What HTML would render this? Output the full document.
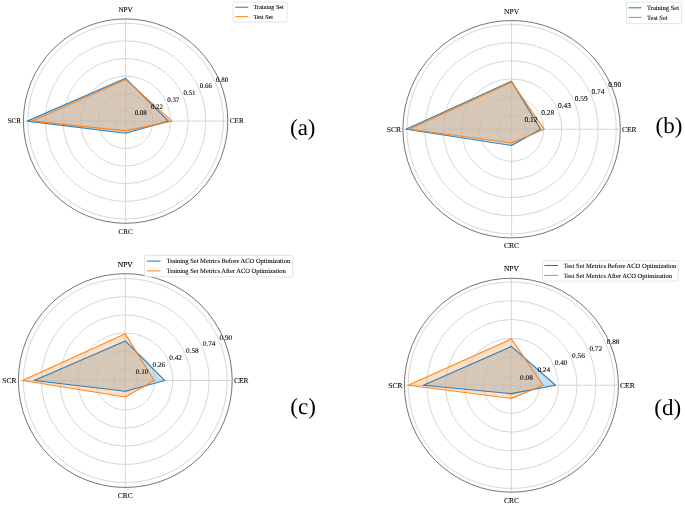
<!DOCTYPE html>
<html><head><meta charset="utf-8"><title>Radar charts</title>
<style>
html,body{margin:0;padding:0;background:#fff;}
body{width:685px;height:505px;overflow:hidden;}
svg{display:block;will-change:transform;filter:blur(0.4px);}
text{font-family:"Liberation Serif",serif;fill:#000;text-rendering:geometricPrecision;}
.s text{stroke:#000;stroke-width:0.09px;}
.s text.tag{stroke:none;}
</style></head><body>
<svg width="685" height="505" viewBox="0 0 685 505">
<rect width="685" height="505" fill="#fff"/>
<g id="chart-a" class="s">
<polygon points="168.40,121.10 125.60,78.30 27.30,121.10 125.60,133.30" fill="#1f77b4" fill-opacity="0.24" stroke="none"/>
<polygon points="171.90,121.10 125.60,79.40 32.60,121.10 125.60,130.90" fill="#ff7f0e" fill-opacity="0.24" stroke="none"/>
<circle cx="125.6" cy="121.1" r="9.78" fill="none" stroke="#bcbcbc" stroke-width="0.6"/>
<circle cx="125.6" cy="121.1" r="27.40" fill="none" stroke="#bcbcbc" stroke-width="0.6"/>
<circle cx="125.6" cy="121.1" r="45.01" fill="none" stroke="#bcbcbc" stroke-width="0.6"/>
<circle cx="125.6" cy="121.1" r="62.62" fill="none" stroke="#bcbcbc" stroke-width="0.6"/>
<circle cx="125.6" cy="121.1" r="80.23" fill="none" stroke="#bcbcbc" stroke-width="0.6"/>
<circle cx="125.6" cy="121.1" r="97.84" fill="none" stroke="#bcbcbc" stroke-width="0.6"/>
<line x1="23.39999999999999" y1="121.1" x2="227.8" y2="121.1" stroke="#bcbcbc" stroke-width="0.6"/>
<line x1="125.6" y1="18.89999999999999" x2="125.6" y2="223.3" stroke="#bcbcbc" stroke-width="0.6"/>
<polygon points="168.40,121.10 125.60,78.30 27.30,121.10 125.60,133.30" fill="none" stroke="#1f77b4" stroke-width="1.15" stroke-opacity="0.92" stroke-linejoin="round"/>
<polygon points="171.90,121.10 125.60,79.40 32.60,121.10 125.60,130.90" fill="none" stroke="#ff7f0e" stroke-width="1.15" stroke-opacity="0.92" stroke-linejoin="round"/>
<circle cx="125.6" cy="121.1" r="102.2" fill="none" stroke="#3a3a3a" stroke-width="0.7"/>
<text x="134.64" y="115.36" font-size="6.95">0.08</text>
<text x="150.91" y="108.62" font-size="6.95">0.22</text>
<text x="167.18" y="101.88" font-size="6.95">0.37</text>
<text x="183.45" y="95.14" font-size="6.95">0.51</text>
<text x="199.72" y="88.40" font-size="6.95">0.66</text>
<text x="215.99" y="81.66" font-size="6.95">0.80</text>
<text x="236.80" y="123.46" font-size="7.15" text-anchor="middle">CER</text>
<text x="125.60" y="11.86" font-size="7.15" text-anchor="middle">NPV</text>
<text x="14.40" y="123.46" font-size="7.15" text-anchor="middle">SCR</text>
<text x="125.60" y="233.66" font-size="7.15" text-anchor="middle">CRC</text>
<rect x="233.2" y="2.1" width="53.9" height="19.9" rx="1" ry="1" fill="#fff" fill-opacity="0.85" stroke="#d4d4d4" stroke-width="0.6"/>
<line x1="235.2" y1="7.2" x2="248.3" y2="7.2" stroke="#1f77b4" stroke-width="1"/>
<text x="253.6" y="9.21" font-size="6.10">Training Set</text>
<line x1="235.2" y1="16.7" x2="248.3" y2="16.7" stroke="#ff7f0e" stroke-width="1"/>
<text x="253.6" y="18.71" font-size="6.10">Test Set</text>
<text x="290.0" y="134.7" class="tag" font-size="23" fill="#000">(a)</text>
</g>
<g id="chart-b" class="s">
<polygon points="540.60,129.20 511.60,81.20 406.00,129.20 511.60,145.50" fill="#1f77b4" fill-opacity="0.24" stroke="none"/>
<polygon points="544.10,129.20 511.60,82.20 409.30,129.20 511.60,143.00" fill="#ff7f0e" fill-opacity="0.24" stroke="none"/>
<circle cx="511.6" cy="129.2" r="13.96" fill="none" stroke="#bcbcbc" stroke-width="0.6"/>
<circle cx="511.6" cy="129.2" r="32.10" fill="none" stroke="#bcbcbc" stroke-width="0.6"/>
<circle cx="511.6" cy="129.2" r="50.24" fill="none" stroke="#bcbcbc" stroke-width="0.6"/>
<circle cx="511.6" cy="129.2" r="68.38" fill="none" stroke="#bcbcbc" stroke-width="0.6"/>
<circle cx="511.6" cy="129.2" r="86.53" fill="none" stroke="#bcbcbc" stroke-width="0.6"/>
<circle cx="511.6" cy="129.2" r="104.67" fill="none" stroke="#bcbcbc" stroke-width="0.6"/>
<line x1="402.90000000000003" y1="129.2" x2="620.3000000000001" y2="129.2" stroke="#bcbcbc" stroke-width="0.6"/>
<line x1="511.6" y1="20.499999999999986" x2="511.6" y2="237.89999999999998" stroke="#bcbcbc" stroke-width="0.6"/>
<polygon points="540.60,129.20 511.60,81.20 406.00,129.20 511.60,145.50" fill="none" stroke="#1f77b4" stroke-width="1.15" stroke-opacity="0.92" stroke-linejoin="round"/>
<polygon points="544.10,129.20 511.60,82.20 409.30,129.20 511.60,143.00" fill="none" stroke="#ff7f0e" stroke-width="1.15" stroke-opacity="0.92" stroke-linejoin="round"/>
<circle cx="511.6" cy="129.2" r="108.7" fill="none" stroke="#3a3a3a" stroke-width="0.7"/>
<text x="524.49" y="121.86" font-size="7.39">0.12</text>
<text x="541.26" y="114.92" font-size="7.39">0.28</text>
<text x="558.02" y="107.97" font-size="7.39">0.43</text>
<text x="574.78" y="101.03" font-size="7.39">0.59</text>
<text x="591.54" y="94.09" font-size="7.39">0.74</text>
<text x="608.30" y="87.14" font-size="7.39">0.90</text>
<text x="629.30" y="131.71" font-size="7.60" text-anchor="middle">CER</text>
<text x="511.60" y="13.61" font-size="7.60" text-anchor="middle">NPV</text>
<text x="393.90" y="131.71" font-size="7.60" text-anchor="middle">SCR</text>
<text x="511.60" y="248.41" font-size="7.60" text-anchor="middle">CRC</text>
<rect x="626.5" y="2.2" width="54.9" height="21.4" rx="1" ry="1" fill="#fff" fill-opacity="0.85" stroke="#d4d4d4" stroke-width="0.6"/>
<line x1="628.5" y1="7.8" x2="641.6" y2="7.8" stroke="#1f77b4" stroke-width="1"/>
<text x="647.0" y="9.94" font-size="6.49">Training Set</text>
<line x1="628.5" y1="17.4" x2="641.6" y2="17.4" stroke="#ff7f0e" stroke-width="1"/>
<text x="647.0" y="19.54" font-size="6.49">Test Set</text>
<text x="655.5" y="132.7" class="tag" font-size="23" fill="#000">(b)</text>
</g>
<g id="chart-c" class="s">
<polygon points="164.90,380.55 125.30,340.95 34.10,380.55 125.30,391.25" fill="#1f77b4" fill-opacity="0.24" stroke="none"/>
<polygon points="154.20,380.55 125.30,333.85 22.50,380.55 125.30,396.95" fill="#ff7f0e" fill-opacity="0.24" stroke="none"/>
<circle cx="125.3" cy="380.55" r="11.33" fill="none" stroke="#bcbcbc" stroke-width="0.6"/>
<circle cx="125.3" cy="380.55" r="29.46" fill="none" stroke="#bcbcbc" stroke-width="0.6"/>
<circle cx="125.3" cy="380.55" r="47.59" fill="none" stroke="#bcbcbc" stroke-width="0.6"/>
<circle cx="125.3" cy="380.55" r="65.71" fill="none" stroke="#bcbcbc" stroke-width="0.6"/>
<circle cx="125.3" cy="380.55" r="83.84" fill="none" stroke="#bcbcbc" stroke-width="0.6"/>
<circle cx="125.3" cy="380.55" r="101.97" fill="none" stroke="#bcbcbc" stroke-width="0.6"/>
<line x1="18.39999999999999" y1="380.55" x2="232.2" y2="380.55" stroke="#bcbcbc" stroke-width="0.6"/>
<line x1="125.3" y1="273.65" x2="125.3" y2="487.45000000000005" stroke="#bcbcbc" stroke-width="0.6"/>
<polygon points="164.90,380.55 125.30,340.95 34.10,380.55 125.30,391.25" fill="none" stroke="#1f77b4" stroke-width="1.15" stroke-opacity="0.92" stroke-linejoin="round"/>
<polygon points="154.20,380.55 125.30,333.85 22.50,380.55 125.30,396.95" fill="none" stroke="#ff7f0e" stroke-width="1.15" stroke-opacity="0.92" stroke-linejoin="round"/>
<circle cx="125.3" cy="380.55" r="106.9" fill="none" stroke="#3a3a3a" stroke-width="0.7"/>
<text x="135.77" y="374.21" font-size="7.27">0.10</text>
<text x="152.52" y="367.28" font-size="7.27">0.26</text>
<text x="169.26" y="360.34" font-size="7.27">0.42</text>
<text x="186.01" y="353.40" font-size="7.27">0.58</text>
<text x="202.76" y="346.47" font-size="7.27">0.74</text>
<text x="219.51" y="339.53" font-size="7.27">0.90</text>
<text x="241.20" y="383.02" font-size="7.48" text-anchor="middle">CER</text>
<text x="125.30" y="266.72" font-size="7.48" text-anchor="middle">NPV</text>
<text x="9.40" y="383.02" font-size="7.48" text-anchor="middle">SCR</text>
<text x="125.30" y="497.92" font-size="7.48" text-anchor="middle">CRC</text>
<rect x="144.5" y="255.4" width="148.2" height="21.5" rx="1" ry="1" fill="#fff" fill-opacity="0.85" stroke="#d4d4d4" stroke-width="0.6"/>
<line x1="146.7" y1="261.1" x2="160.6" y2="261.1" stroke="#1f77b4" stroke-width="1"/>
<text x="166.4" y="263.25" font-size="6.50">Training Set Metrics Before ACO Optimization</text>
<line x1="146.7" y1="270.9" x2="160.6" y2="270.9" stroke="#ff7f0e" stroke-width="1"/>
<text x="166.4" y="273.04" font-size="6.50">Training Set Metrics After ACO Optimization</text>
<text x="290.3" y="413.5" class="tag" font-size="23" fill="#000">(c)</text>
</g>
<g id="chart-d" class="s">
<polygon points="555.60,385.20 511.40,346.40 423.40,385.20 511.40,393.60" fill="#1f77b4" fill-opacity="0.24" stroke="none"/>
<polygon points="543.10,385.20 511.40,338.90 408.20,385.20 511.40,398.40" fill="#ff7f0e" fill-opacity="0.24" stroke="none"/>
<circle cx="511.4" cy="385.2" r="9.38" fill="none" stroke="#bcbcbc" stroke-width="0.6"/>
<circle cx="511.4" cy="385.2" r="28.15" fill="none" stroke="#bcbcbc" stroke-width="0.6"/>
<circle cx="511.4" cy="385.2" r="46.92" fill="none" stroke="#bcbcbc" stroke-width="0.6"/>
<circle cx="511.4" cy="385.2" r="65.69" fill="none" stroke="#bcbcbc" stroke-width="0.6"/>
<circle cx="511.4" cy="385.2" r="84.46" fill="none" stroke="#bcbcbc" stroke-width="0.6"/>
<circle cx="511.4" cy="385.2" r="103.22" fill="none" stroke="#bcbcbc" stroke-width="0.6"/>
<line x1="404.4" y1="385.2" x2="618.4" y2="385.2" stroke="#bcbcbc" stroke-width="0.6"/>
<line x1="511.4" y1="278.2" x2="511.4" y2="492.2" stroke="#bcbcbc" stroke-width="0.6"/>
<polygon points="555.60,385.20 511.40,346.40 423.40,385.20 511.40,393.60" fill="none" stroke="#1f77b4" stroke-width="1.15" stroke-opacity="0.92" stroke-linejoin="round"/>
<polygon points="543.10,385.20 511.40,338.90 408.20,385.20 511.40,398.40" fill="none" stroke="#ff7f0e" stroke-width="1.15" stroke-opacity="0.92" stroke-linejoin="round"/>
<circle cx="511.4" cy="385.2" r="107.0" fill="none" stroke="#3a3a3a" stroke-width="0.7"/>
<text x="520.07" y="379.61" font-size="7.28">0.08</text>
<text x="537.41" y="372.43" font-size="7.28">0.24</text>
<text x="554.75" y="365.24" font-size="7.28">0.40</text>
<text x="572.09" y="358.06" font-size="7.28">0.56</text>
<text x="589.43" y="350.88" font-size="7.28">0.72</text>
<text x="606.77" y="343.70" font-size="7.28">0.88</text>
<text x="627.40" y="387.67" font-size="7.49" text-anchor="middle">CER</text>
<text x="511.40" y="271.27" font-size="7.49" text-anchor="middle">NPV</text>
<text x="395.40" y="387.67" font-size="7.49" text-anchor="middle">SCR</text>
<text x="511.40" y="502.67" font-size="7.49" text-anchor="middle">CRC</text>
<rect x="542.5" y="260.7" width="135.6" height="20.4" rx="1" ry="1" fill="#fff" fill-opacity="0.85" stroke="#d4d4d4" stroke-width="0.6"/>
<line x1="544.3" y1="265.5" x2="558.0" y2="265.5" stroke="#1f77b4" stroke-width="1"/>
<text x="563.7" y="267.65" font-size="6.52">Test Set Metrics Before ACO Optimization</text>
<line x1="544.3" y1="275.4" x2="558.0" y2="275.4" stroke="#ff7f0e" stroke-width="1"/>
<text x="563.7" y="277.55" font-size="6.52">Test Set Metrics After ACO Optimization</text>
<text x="654.3" y="415.1" class="tag" font-size="23" fill="#000">(d)</text>
</g>
</svg></body></html>
